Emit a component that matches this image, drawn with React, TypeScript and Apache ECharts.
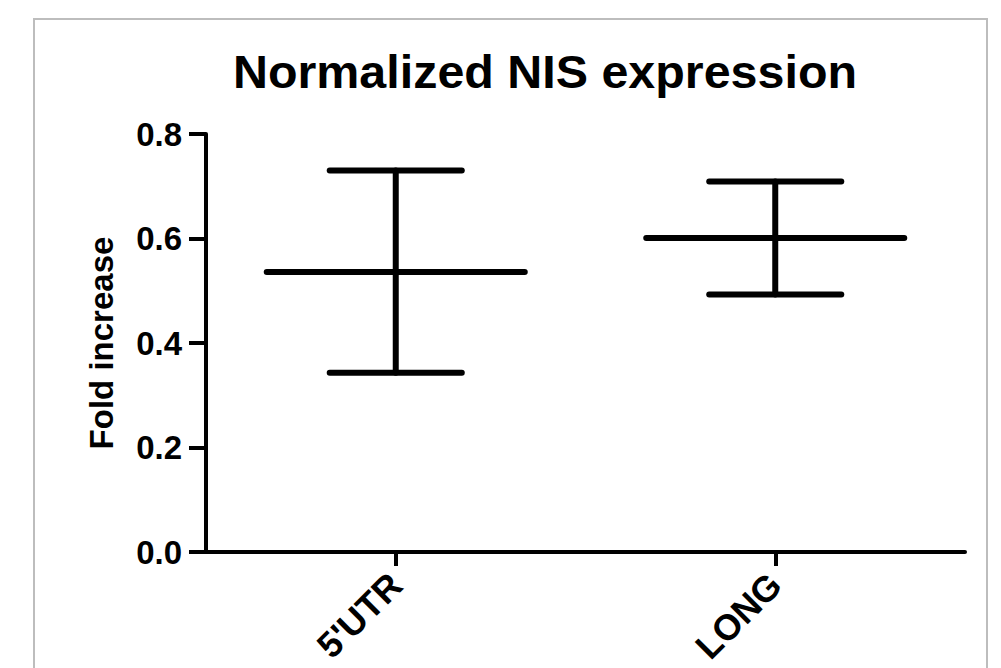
import React, { useEffect, useRef } from "react";
import * as echarts from "echarts";

const categories = ["5'UTR", "LONG"];
const means = [0.536, 0.601];
const lows = [0.343, 0.493];
const highs = [0.730, 0.709];
const yMin = 0;
const yMax = 0.8;
const yInterval = 0.2;
const titleText = "Normalized NIS expression";
const yName = "Fold increase";

export default function App() {
  const ref = useRef<HTMLDivElement>(null);
  useEffect(() => {
    if (!ref.current) return;
    const chart = echarts.init(ref.current, null, { renderer: "svg" });
    const data = categories.map((_, i) => [i, means[i], lows[i], highs[i]]);
    const font = "'Liberation Sans', Arial, sans-serif";
    chart.setOption({
      animation: false,
      backgroundColor: "#fff",
      graphic: [
        {
          type: "rect",
          silent: true,
          shape: { x: 34, y: 19, width: 953, height: 700 },
          style: { fill: "none", stroke: "#bdbdbd", lineWidth: 2 },
        },
        {
          type: "text",
          x: 545,
          y: 72,
          scaleX: 1.03,
          style: {
            text: titleText,
            fontFamily: font,
            fontWeight: "bold",
            fontSize: 47,
            fill: "#000",
            textAlign: "center",
            textVerticalAlign: "middle",
          },
        },
      ],
      grid: { left: 206, right: 36, top: 134, bottom: 116, containLabel: false },
      xAxis: {
        type: "category",
        data: categories,
        axisLine: { lineStyle: { color: "#000", width: 4 } },
        axisTick: { show: true, alignWithLabel: true, length: 14, lineStyle: { color: "#000", width: 4 } },
        axisLabel: {
          rotate: 45,
          margin: 27,
          color: "#000",
          fontFamily: font,
          fontWeight: "bold",
          fontSize: 36,
        },
        splitLine: { show: false },
      },
      yAxis: {
        type: "value",
        min: yMin,
        max: yMax,
        interval: yInterval,
        name: yName,
        nameLocation: "middle",
        nameGap: 88,
        nameTextStyle: { color: "#000", fontFamily: font, fontWeight: "bold", fontSize: 33 },
        axisLine: { show: true, lineStyle: { color: "#000", width: 4 } },
        axisTick: { show: true, length: 17, lineStyle: { color: "#000", width: 4 } },
        axisLabel: {
          margin: 24,
          color: "#000",
          fontFamily: font,
          fontWeight: "bold",
          fontSize: 33,
          formatter: (v: number) => v.toFixed(1),
        },
        splitLine: { show: false },
      },
      series: [
        {
          type: "custom",
          encode: { x: 0, y: [1, 2, 3] },
          data,
          renderItem: (params: any, api: any) => {
            const i = api.value(0);
            const m = api.value(1);
            const lo = api.value(2);
            const hi = api.value(3);
            const c = api.coord([i, m]);
            const t = api.coord([i, hi]);
            const b = api.coord([i, lo]);
            const band = api.size([1, 0])[0];
            const mw = band * 0.34;
            const cw = band * 0.174;
            const style = { stroke: "#000", lineWidth: 6, lineCap: "round" };
            return {
              type: "group",
              children: [
                { type: "line", shape: { x1: c[0] - mw, y1: c[1], x2: c[0] + mw, y2: c[1] }, style },
                { type: "line", shape: { x1: c[0], y1: t[1], x2: c[0], y2: b[1] }, style },
                { type: "line", shape: { x1: c[0] - cw, y1: t[1], x2: c[0] + cw, y2: t[1] }, style },
                { type: "line", shape: { x1: c[0] - cw, y1: b[1], x2: c[0] + cw, y2: b[1] }, style },
              ],
            };
          },
        },
      ],
    });
    return () => chart.dispose();
  }, []);
  return (
    <div
      ref={ref}
      style={{ position: "fixed", left: 0, top: 0, width: 1001, height: 668, background: "#fff" }}
    />
  );
}
